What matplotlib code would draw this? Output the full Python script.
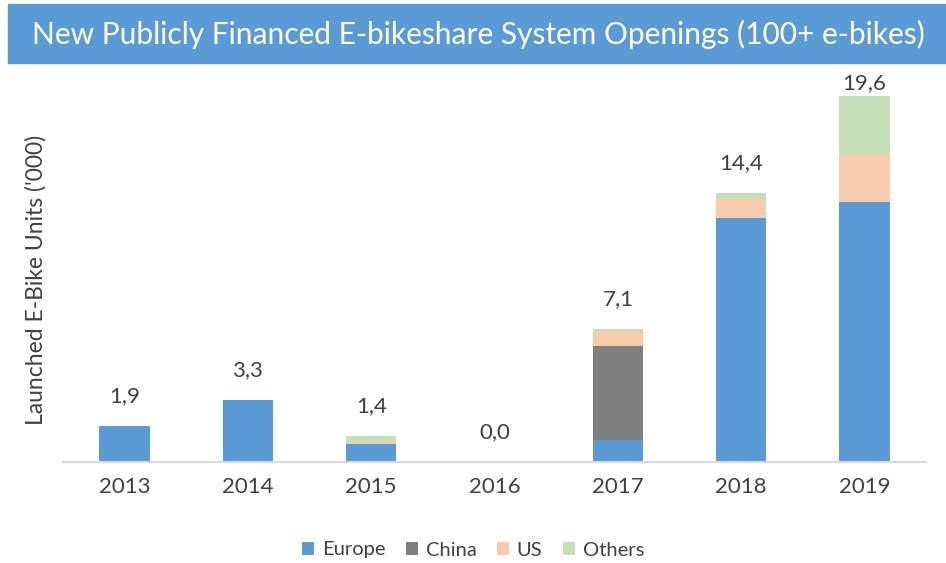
import numpy as np
import matplotlib.pyplot as plt
from matplotlib.patches import Rectangle

plt.rcParams['font.family'] = ['Lato', 'DejaVu Sans']

years = ['2013', '2014', '2015', '2016', '2017', '2018', '2019']
europe = np.array([1.9, 3.3, 0.95, 0.0, 1.2, 13.05, 13.9])
china = np.array([0.0, 0.0, 0.0, 0.0, 5.0, 0.0, 0.0])
us = np.array([0.0, 0.0, 0.1, 0.0, 0.8, 1.0, 2.6])
others = np.array([0.0, 0.0, 0.35, 0.0, 0.1, 0.35, 3.1])
totals = ['1,9', '3,3', '1,4', '0,0', '7,1', '14,4', '19,6']

series = [('Europe', europe, '#5b9bd5'),
          ('China', china, '#7f7f7f'),
          ('US', us, '#f8cbad'),
          ('Others', others, '#c5e0b4')]

txt = '#404040'
fig = plt.figure(figsize=(9.46, 5.63), dpi=100)
ax = fig.add_axes([63 / 946, 1 - 462 / 563, (926 - 63) / 946, (462 - 75) / 563])

x = np.arange(len(years))
bottom = np.zeros(len(years))
for name, vals, col in series:
    ax.bar(x, vals, 0.41, bottom=bottom, color=col, label=name, zorder=2)
    bottom = bottom + vals

# total labels above each stack (last one squeezed under the banner)
for xi, tot, lab in zip(x, bottom, totals):
    ax.text(xi, min(tot + 1.6, 20.25), lab, ha='center', va='center', fontsize=16, color=txt)

ax.set_xlim(-0.5, len(years) - 0.5)
ax.set_ylim(0, 20.7)
ax.set_xticks(x)
ax.set_xticklabels(years, fontsize=16, color=txt)
ax.tick_params(axis='x', length=0, pad=11)
ax.set_yticks([])
for s in ['top', 'right', 'left']:
    ax.spines[s].set_visible(False)
ax.spines['bottom'].set_color('#d9d9d9')
ax.spines['bottom'].set_linewidth(1.5)
ax.set_ylabel("Launched E-Bike Units ('000)", fontsize=16.5, color=txt)
ax.yaxis.set_label_coords(-0.019, 0.47)

leg = fig.legend(loc='center', bbox_to_anchor=(0.5, 1 - 550 / 563), ncol=4, frameon=False,
                 fontsize=14.5, handlelength=0.6, handleheight=0.6, handletextpad=0.4,
                 columnspacing=1.0)
for t in leg.get_texts():
    t.set_color(txt)

# title banner
fig.patches.append(Rectangle((8 / 946, 1 - 63 / 563), 1, 59 / 563,
                             transform=fig.transFigure, color='#5b9bd5', zorder=0))
fig.text(478 / 946, 1 - 34 / 563, 'New Publicly Financed E-bikeshare System Openings (100+ e-bikes)',
         ha='center', va='center', color='white', fontsize=21.5)

fig.savefig('out.png', dpi=100)
